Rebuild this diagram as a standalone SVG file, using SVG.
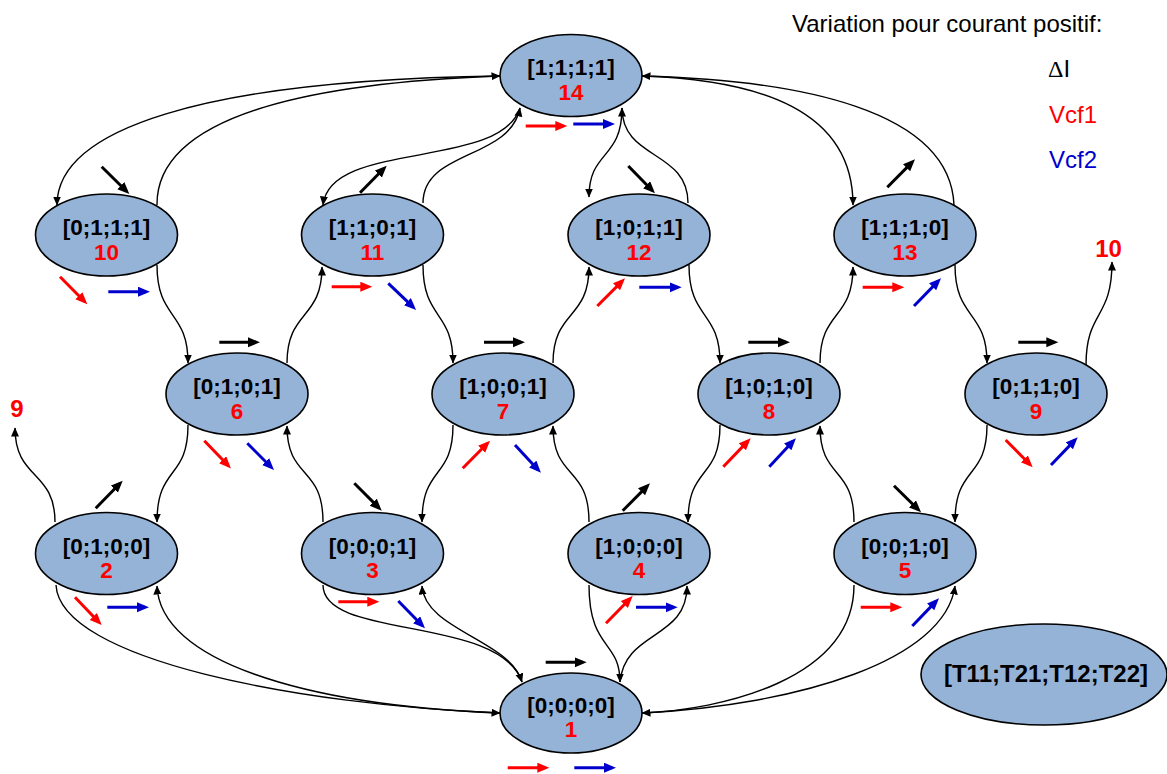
<svg xmlns="http://www.w3.org/2000/svg" width="1167" height="774" viewBox="0 0 1167 774">
<style>
.n{fill:#95B3D7;stroke:#000;stroke-width:1.6}
.t{font-family:"Liberation Sans",Arial,sans-serif;font-weight:bold;font-size:22.5px;text-anchor:middle}
.k{fill:#000}
.r{fill:#FF0000}
.c{fill:none;stroke:#000;stroke-width:1.4;marker-end:url(#ah)}
.ab{stroke:#000;stroke-width:3;marker-end:url(#mb)}
.ar{stroke:#FF0000;stroke-width:3;marker-end:url(#mr)}
.au{stroke:#0000CC;stroke-width:3;marker-end:url(#mu)}
.lg{font-family:"Liberation Sans",Arial,sans-serif;font-size:24px}
</style>
<defs>
<marker id="ah" markerUnits="userSpaceOnUse" markerWidth="10" markerHeight="9" refX="8.5" refY="4" orient="auto"><path d="M0,0 L9,4 L0,8 z" fill="#000"/></marker>
<marker id="mb" markerUnits="userSpaceOnUse" markerWidth="13" markerHeight="11" refX="8" refY="5" orient="auto"><path d="M0,0 L12,5 L0,10 z" fill="#000"/></marker>
<marker id="mr" markerUnits="userSpaceOnUse" markerWidth="13" markerHeight="11" refX="8" refY="5" orient="auto"><path d="M0,0 L12,5 L0,10 z" fill="#FF0000"/></marker>
<marker id="mu" markerUnits="userSpaceOnUse" markerWidth="13" markerHeight="11" refX="8" refY="5" orient="auto"><path d="M0,0 L12,5 L0,10 z" fill="#0000CC"/></marker>
</defs>
<rect width="1167" height="774" fill="#fff"/>

<g id="legend-text">
<text class="lg" x="792" y="32">Variation pour courant positif:</text>
<text class="lg" x="1048" y="77"><tspan font-family="Liberation Serif">Δ</tspan>I</text>
<text class="lg" x="1049" y="123" fill="#FF0000">Vcf1</text>
<text class="lg" x="1049" y="168" fill="#0000CC">Vcf2</text>
<text class="t r" x="1108.5" y="257" style="font-size:24px">10</text>
<text class="t r" x="17" y="417" style="font-size:24px">9</text>
</g>

<g id="node1"><ellipse class="n" cx="571" cy="713" rx="71" ry="40"/><text class="t k" x="571" y="712.5">[0;0;0;0]</text><text class="t r" x="571" y="737">1</text></g>
<g id="node2"><ellipse class="n" cx="106.5" cy="553.5" rx="71" ry="41"/><text class="t k" x="106.5" y="553.5">[0;1;0;0]</text><text class="t r" x="106.5" y="578">2</text></g>
<g id="node3"><ellipse class="n" cx="372.5" cy="553.5" rx="71" ry="41"/><text class="t k" x="372.5" y="553.5">[0;0;0;1]</text><text class="t r" x="372.5" y="578">3</text></g>
<g id="node4"><ellipse class="n" cx="639" cy="553.5" rx="71" ry="41"/><text class="t k" x="639" y="553.5">[1;0;0;0]</text><text class="t r" x="639" y="578">4</text></g>
<g id="node5"><ellipse class="n" cx="905" cy="553.5" rx="71" ry="41"/><text class="t k" x="905" y="553.5">[0;0;1;0]</text><text class="t r" x="905" y="578">5</text></g>
<g id="node6"><ellipse class="n" cx="237" cy="394" rx="71" ry="41"/><text class="t k" x="237" y="394">[0;1;0;1]</text><text class="t r" x="237" y="418.5">6</text></g>
<g id="node7"><ellipse class="n" cx="503" cy="394" rx="71" ry="41"/><text class="t k" x="503" y="394">[1;0;0;1]</text><text class="t r" x="503" y="418.5">7</text></g>
<g id="node8"><ellipse class="n" cx="769" cy="394" rx="71" ry="41"/><text class="t k" x="769" y="394">[1;0;1;0]</text><text class="t r" x="769" y="418.5">8</text></g>
<g id="node9"><ellipse class="n" cx="1036" cy="394" rx="71" ry="41"/><text class="t k" x="1036" y="394">[0;1;1;0]</text><text class="t r" x="1036" y="418.5">9</text></g>
<g id="node10"><ellipse class="n" cx="106.5" cy="235" rx="71" ry="41"/><text class="t k" x="106.5" y="235">[0;1;1;1]</text><text class="t r" x="106.5" y="259.5">10</text></g>
<g id="node11"><ellipse class="n" cx="372.5" cy="235" rx="71" ry="41"/><text class="t k" x="372.5" y="235">[1;1;0;1]</text><text class="t r" x="372.5" y="259.5">11</text></g>
<g id="node12"><ellipse class="n" cx="639" cy="235" rx="71" ry="41"/><text class="t k" x="639" y="235">[1;0;1;1]</text><text class="t r" x="639" y="259.5">12</text></g>
<g id="node13"><ellipse class="n" cx="905" cy="235" rx="71" ry="41"/><text class="t k" x="905" y="235">[1;1;1;0]</text><text class="t r" x="905" y="259.5">13</text></g>
<g id="node14"><ellipse class="n" cx="571" cy="75.5" rx="71" ry="41"/><text class="t k" x="571" y="75">[1;1;1;1]</text><text class="t r" x="571" y="99.5">14</text></g>
<g id="legend-node"><ellipse class="n" cx="1044" cy="674.5" rx="123" ry="50.5"/><text class="t k" x="1046" y="682" style="font-size:24px">[T11;T21;T12;T22]</text></g>

<g id="connectors">
<path class="c" d="M500,76 C200,80 57,130 57,205"/>
<path class="c" d="M157,205 C156,110 330,82 500,76"/>
<path class="c" d="M520,108 C500,170 330,140 323,205"/>
<path class="c" d="M423,203 C423,150 510,160 520,108"/>
<path class="c" d="M622,108 C622,160 589,150 589,197"/>
<path class="c" d="M688,203 C688,150 622,160 622,108"/>
<path class="c" d="M642,76 C760,80 853,110 853,205"/>
<path class="c" d="M954,205 C950,110 800,80 642,76"/>
<path class="c" d="M157,265 C157,320 188,310 188,363"/>
<path class="c" d="M287,363 C287,310 322,320 322,267"/>
<path class="c" d="M423,265 C423,320 453,310 453,363"/>
<path class="c" d="M553,363 C553,310 589,320 589,267"/>
<path class="c" d="M689,265 C689,320 720,310 720,363"/>
<path class="c" d="M820,363 C820,310 853,320 853,267"/>
<path class="c" d="M955,265 C955,320 987,310 987,363"/>
<path class="c" d="M1086,365 C1086,310 1112,320 1112,262"/>
<path class="c" d="M188,425 C188,480 157,465 157,522"/>
<path class="c" d="M323,522 C323,465 287,480 287,426"/>
<path class="c" d="M453,425 C453,480 422,465 422,522"/>
<path class="c" d="M589,522 C589,465 553,480 553,426"/>
<path class="c" d="M720,425 C720,480 688,465 688,522"/>
<path class="c" d="M854,522 C854,465 820,480 820,426"/>
<path class="c" d="M987,425 C987,480 955,465 955,522"/>
<path class="c" d="M55,522 C55,470 15,480 15,428"/>
<path class="c" d="M56,585 C60,660 300,705 500,713"/>
<path class="c" d="M500,713 C300,705 160,660 157,586"/>
<path class="c" d="M323,585 C323,640 500,615 522,682"/>
<path class="c" d="M522,682 C510,640 425,630 422,586"/>
<path class="c" d="M589,585 C589,650 620,640 620,682"/>
<path class="c" d="M620,682 C625,630 687,640 687,586"/>
<path class="c" d="M854,585 C854,680 720,710 642,713"/>
<path class="c" d="M642,713 C800,705 945,660 955,586"/>
</g>

<g id="variation-arrows">
<line class="ab" x1="101.7" y1="166.7" x2="126.5" y2="191.2"/>
<line class="ab" x1="360" y1="192.7" x2="383.9" y2="168.5"/>
<line class="ab" x1="628.3" y1="166" x2="652.2" y2="190.5"/>
<line class="ab" x1="887.3" y1="187.3" x2="912.2" y2="162.1"/>
<line class="ab" x1="219.3" y1="342.3" x2="256" y2="342.3"/>
<line class="ab" x1="484" y1="342.3" x2="521" y2="342.3"/>
<line class="ab" x1="748.3" y1="342.3" x2="786" y2="342.3"/>
<line class="ab" x1="1018.3" y1="342.3" x2="1054.3" y2="342.3"/>
<line class="ab" x1="95.7" y1="508.3" x2="119.9" y2="483.5"/>
<line class="ab" x1="354.3" y1="483.3" x2="378.9" y2="507.9"/>
<line class="ab" x1="622.7" y1="510.7" x2="647.2" y2="486.1"/>
<line class="ab" x1="894" y1="485.7" x2="918.2" y2="509.5"/>
<line class="ab" x1="545.7" y1="662.3" x2="582.7" y2="662.3"/>

<line class="ar" x1="60" y1="276.7" x2="84.5" y2="301.5"/>
<line class="ar" x1="331.7" y1="286.7" x2="368.3" y2="286.7"/>
<line class="ar" x1="525.7" y1="126" x2="563.3" y2="126"/>
<line class="ar" x1="597.3" y1="306" x2="622.2" y2="281.1"/>
<line class="ar" x1="862.7" y1="287.3" x2="900.3" y2="287.3"/>
<line class="ar" x1="204.3" y1="440.7" x2="228.2" y2="465.5"/>
<line class="ar" x1="462.7" y1="468.3" x2="487.2" y2="443.5"/>
<line class="ar" x1="723.3" y1="466.7" x2="747.9" y2="441.1"/>
<line class="ar" x1="1005.7" y1="440" x2="1029.9" y2="464.5"/>
<line class="ar" x1="75" y1="597.3" x2="98.9" y2="622.2"/>
<line class="ar" x1="338.3" y1="601.7" x2="375.3" y2="601.7"/>
<line class="ar" x1="606" y1="623.3" x2="629.9" y2="598.8"/>
<line class="ar" x1="860.7" y1="607.3" x2="898.3" y2="607.3"/>
<line class="ar" x1="507.7" y1="767.7" x2="545.3" y2="767.7"/>

<line class="au" x1="108.3" y1="291.7" x2="146" y2="291.7"/>
<line class="au" x1="388.3" y1="283.3" x2="413.2" y2="307.2"/>
<line class="au" x1="573.3" y1="124" x2="611" y2="124"/>
<line class="au" x1="639.3" y1="287.3" x2="677.7" y2="287.3"/>
<line class="au" x1="914" y1="306" x2="938.2" y2="281.1"/>
<line class="au" x1="247.3" y1="443.3" x2="271.2" y2="467.2"/>
<line class="au" x1="515" y1="445" x2="538.2" y2="469.9"/>
<line class="au" x1="769.3" y1="466.7" x2="793.2" y2="441.1"/>
<line class="au" x1="1051" y1="465" x2="1074.9" y2="440.1"/>
<line class="au" x1="107.3" y1="607.3" x2="145" y2="607.3"/>
<line class="au" x1="398.3" y1="601" x2="422.2" y2="625.5"/>
<line class="au" x1="636" y1="607.3" x2="673.7" y2="607.3"/>
<line class="au" x1="912.3" y1="626" x2="936.2" y2="601.1"/>
<line class="au" x1="574.3" y1="767.7" x2="612" y2="767.7"/>
</g>
</svg>
